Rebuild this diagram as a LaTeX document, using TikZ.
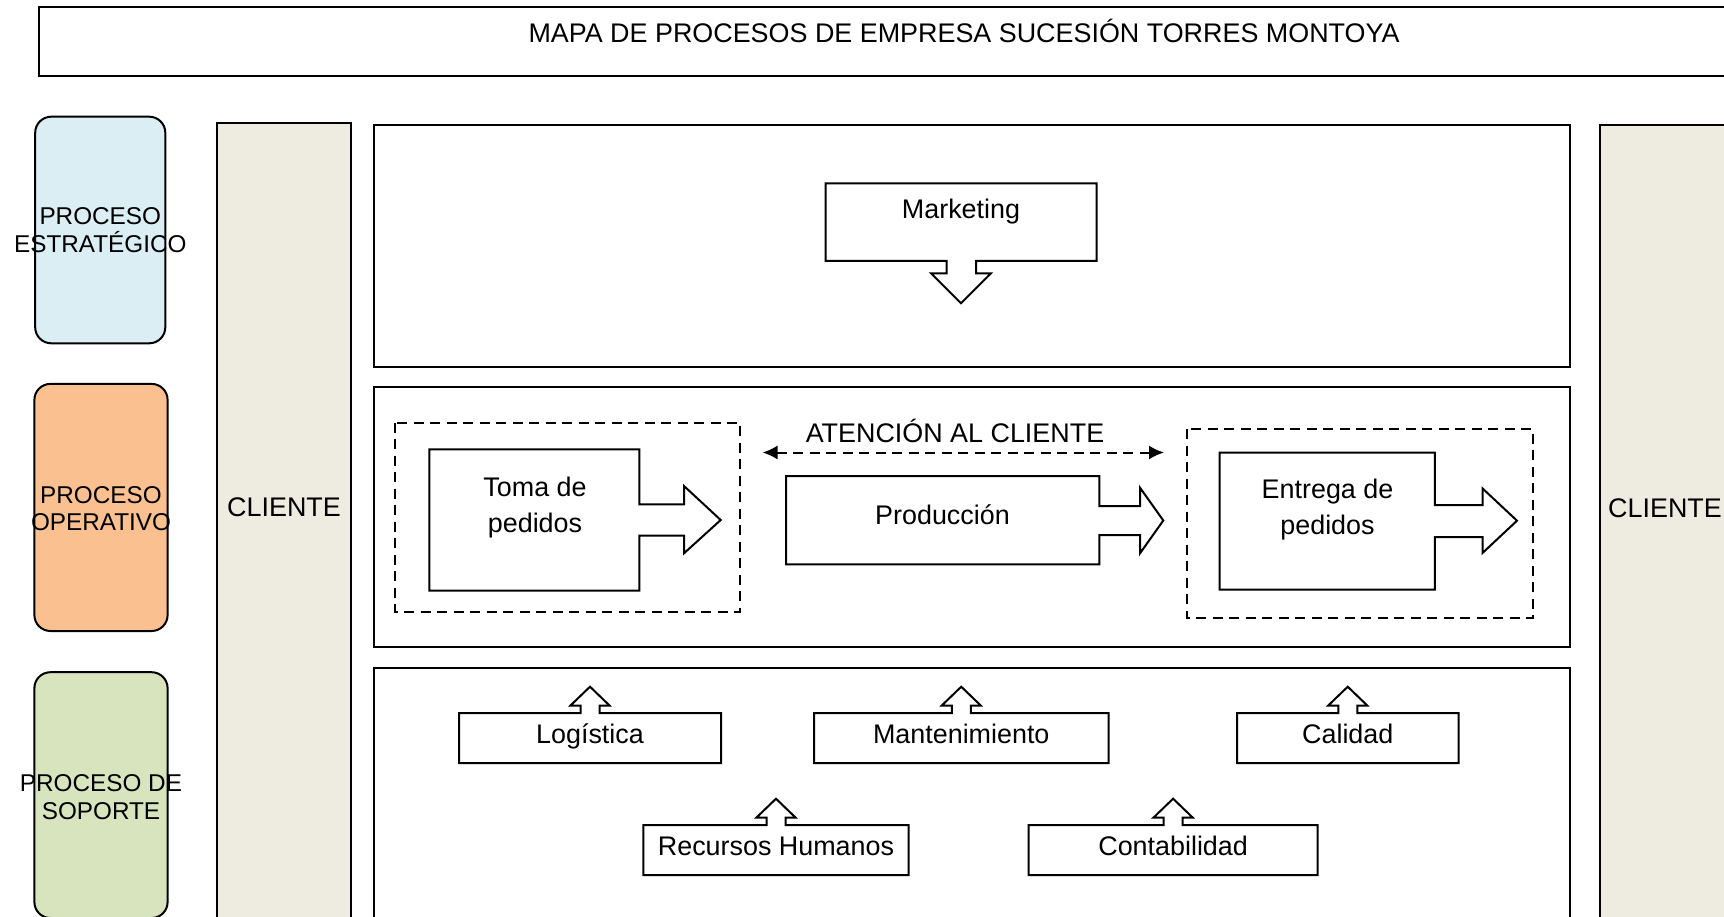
\documentclass[tikz,border=0pt]{standalone}
\usepackage{fontspec}
\setmainfont{Liberation Sans}
\usetikzlibrary{arrows.meta}
\definecolor{stratblue}{HTML}{DAEEF3}
\definecolor{operorange}{HTML}{FAC090}
\definecolor{supgreen}{HTML}{D7E4BD}
\definecolor{clienttan}{HTML}{EEECE1}
\newcommand{\UpBox}[5]{% #1 name, #2 x1, #3 x2, #4 ytop, #5 text
  \pgfmathsetmacro{\ubc}{(#2+#3)/2}
  \draw[panel] (#2,#4) -- (\ubc-9.5,#4) -- (\ubc-9.5,#4-7.5) -- (\ubc-19.5,#4-7.5) -- (\ubc,#4-26.3)
    -- (\ubc+19.5,#4-7.5) -- (\ubc+9.5,#4-7.5) -- (\ubc+9.5,#4) -- (#3,#4) -- (#3,#4+50) -- (#2,#4+50) -- cycle;
  \node[lbl, anchor=base] (#1) at (\ubc,#4+30.3) {#5};
}
\begin{document}
\begin{tikzpicture}[x=1pt,y=-1pt,
  ln/.style={line width=2pt, line join=miter},
  panel/.style={ln, draw=black, fill=white},
  dashbox/.style={ln, draw=black, dash pattern=on 10pt off 6.5pt},
  lbl/.style={font=\fontsize{26.9}{35.5}\selectfont, inner sep=0pt, align=center},
  sidelbl/.style={font=\fontsize{24.3}{27.7}\selectfont, inner sep=0pt, align=center},
  sidebox/.style={ln, draw=black, rounded corners=16pt},
  dblarrow/.style={ln, dash pattern=on 10pt off 6.5pt, {Latex[length=15pt,width=14pt]}-{Latex[length=15pt,width=14pt]}},
]
\useasboundingbox (0,0) rectangle (1724,917);
\clip (0,0) rectangle (1724,917);
\fill[white] (0,0) rectangle (1724,917);

% title
\draw[panel] (38.5,6.6) rectangle (1900,76);
\node[lbl, anchor=base] (title) at (964,42.3) {MAPA DE PROCESOS DE EMPRESA SUCESIÓN TORRES MONTOYA};

% side boxes
\draw[sidebox, fill=stratblue] (35.2,116.7) rectangle (165.3,343.3);
\node[sidelbl] (pe) at (100.3,230.3) {PROCESO\\ESTRATÉGICO};
\draw[sidebox, fill=operorange] (34.4,383.9) rectangle (167.6,631);
\node[sidelbl] (po) at (101,508.5) {PROCESO\\OPERATIVO};
\draw[sidebox, fill=supgreen] (34.4,672.2) rectangle (167.6,918);
\node[sidelbl] (ps) at (101,797) {PROCESO DE\\SOPORTE};

% client columns
\draw[ln, draw=black, fill=clienttan] (217.3,122.7) rectangle (351,940);
\node[lbl, anchor=base] (cl) at (284,516.5) {CLIENTE};
\draw[ln, draw=black, fill=clienttan] (1599.5,125) rectangle (1740,940);
\node[lbl, anchor=base] (cr) at (1665,517) {CLIENTE};

% panels
\draw[panel] (374,124.7) rectangle (1570,366.7);
\draw[panel] (374,387) rectangle (1570,647);
\draw[panel] (374,667.5) rectangle (1570,940);

% strategic: marketing
\draw[panel] (825.7,183.3) -- (1096.7,183.3) -- (1096.7,261) -- (976,261) -- (976,273.3) -- (991,273.3)
  -- (961,303.3) -- (931,273.3) -- (946.7,273.3) -- (946.7,261) -- (825.7,261) -- cycle;
\node[lbl, anchor=base] (mk) at (961,219) {Marketing};

% operative
\draw[dashbox] (395,422.7) rectangle (740,611.7);
\draw[panel] (429.3,449.3) -- (639.3,449.3) -- (639.3,504.3) -- (684,504.3) -- (684,486) -- (720.7,520)
  -- (684,553.3) -- (684,535.7) -- (639.3,535.7) -- (639.3,590.7) -- (429.3,590.7) -- cycle;
\node[lbl] (toma) at (535,507.7) {Toma de\\pedidos};

\draw[panel] (786,476) -- (1099.3,476) -- (1099.3,506) -- (1140,506) -- (1140,487.7) -- (1163.3,520.5)
  -- (1140,553.3) -- (1140,535) -- (1099.3,535) -- (1099.3,564.3) -- (786,564.3) -- cycle;
\node[lbl, anchor=base] (prod) at (942.5,524.3) {Producción};

\draw[dashbox] (1187,429) rectangle (1533,618);
\draw[panel] (1219.5,452.7) -- (1434.8,452.7) -- (1434.8,505) -- (1482.7,505) -- (1482.7,488.6) -- (1517,520.7)
  -- (1482.7,552.8) -- (1482.7,537) -- (1434.8,537) -- (1434.8,589.5) -- (1219.5,589.5) -- cycle;
\node[lbl] (entrega) at (1327.5,509.5) {Entrega de\\pedidos};

\coordinate (atL) at (762.5,452.5);
\coordinate (atR) at (1164,452.5);
\draw[dblarrow] (atL) -- (atR);
\node[lbl, anchor=base] (aten) at (955,442.7) {ATENCIÓN AL CLIENTE};

% support
\UpBox{log}{459}{721}{713}{Logística}
\UpBox{man}{814}{1108.5}{713}{Mantenimiento}
\UpBox{cal}{1237}{1458.5}{713}{Calidad}
\UpBox{rh}{643.4}{908.6}{825}{Recursos Humanos}
\UpBox{con}{1028.6}{1317.6}{825}{Contabilidad}
\end{tikzpicture}
\end{document}
